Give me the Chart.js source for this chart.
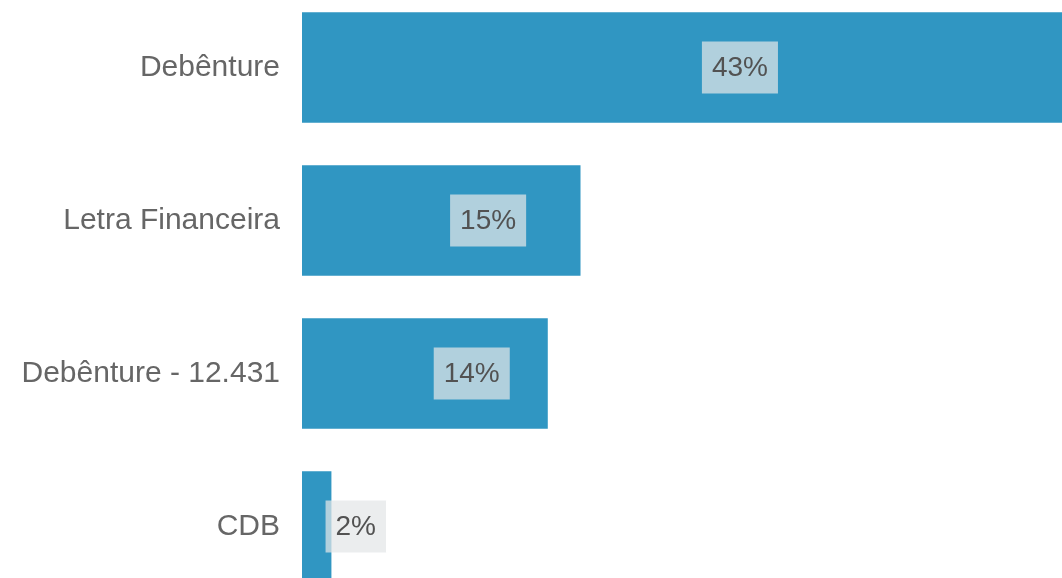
<!DOCTYPE html>
<html>
<head>
<meta charset="utf-8">
<script src="https://cdn.jsdelivr.net/npm/chart.js@4"></script>
<style>
  html, body { margin: 0; padding: 0; background: #fff; overflow: hidden; }
  #wrap { position: relative; width: 1062px; height: 578px; overflow: hidden; }
  #chart { position: absolute; left: 0; top: -9px; }
</style>
</head>
<body>
<div id="wrap"><canvas id="chart" width="1062" height="612"></canvas></div>
<script>
const categories = ['Debênture', 'Letra Financeira', 'Debênture - 12.431', 'CDB'];
const shares = [43, 15.3, 13.5, 1.6];

const FONT = '"Liberation Sans", Arial, sans-serif';

// boxed percentage labels, drawn a bit right of each bar's middle
const shareLabels = {
  id: 'shareLabels',
  afterDatasetsDraw(chart) {
    const ctx = chart.ctx;
    const meta = chart.getDatasetMeta(0);
    ctx.save();
    ctx.font = '28px ' + FONT;
    ctx.textBaseline = 'middle';
    ctx.textAlign = 'left';
    meta.data.forEach((bar, i) => {
      const text = Math.round(shares[i]) + '%';
      const w = ctx.measureText(text).width + 20;
      const left = (bar.base + bar.x) / 2 + 9;
      ctx.fillStyle = 'rgba(227, 230, 231, 0.72)';
      ctx.fillRect(left, bar.y - 26, w, 52);
      ctx.fillStyle = '#525252';
      ctx.fillText(text, left + 10, bar.y + 1);
    });
    ctx.restore();
  },
};

new Chart(document.getElementById('chart').getContext('2d'), {
  type: 'bar',
  data: {
    labels: categories,
    datasets: [{
      data: shares,
      backgroundColor: '#3096c2',
      barThickness: 110,
    }],
  },
  options: {
    indexAxis: 'y',
    responsive: false,
    animation: false,
    layout: { padding: 0 },
    plugins: {
      legend: { display: false },
      tooltip: { enabled: false },
    },
    scales: {
      x: {
        display: false,
        min: 0,
        max: 41.8,
      },
      y: {
        grid: { display: false, drawTicks: false },
        border: { display: false },
        ticks: {
          color: '#666666',
          padding: 22,
          font: { size: 30, family: FONT },
        },
        afterFit(scale) {
          scale.width = 302;
          scale.paddingTop = 0;
          scale.paddingBottom = 0;
        },
      },
    },
  },
  plugins: [shareLabels],
});
</script>
</body>
</html>
